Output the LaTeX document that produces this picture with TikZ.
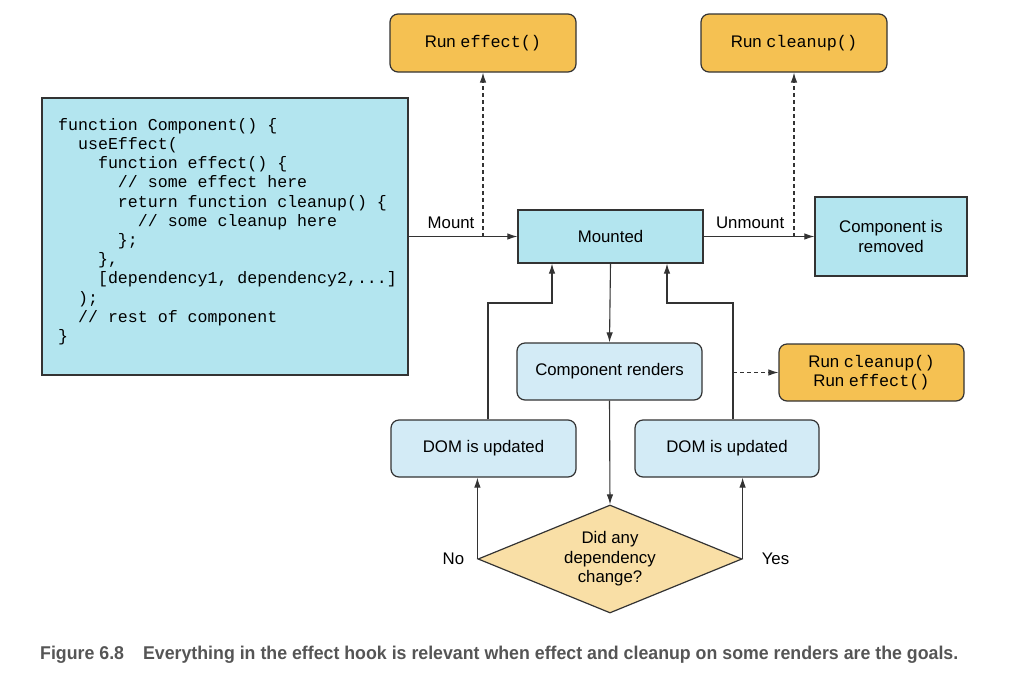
\documentclass[tikz,border=0pt]{standalone}
\usepackage{fontspec}
\setmainfont{Liberation Sans}
\setmonofont{Liberation Mono}
\newfontfamily\capfont[FakeStretch=0.96]{Liberation Sans}
\usetikzlibrary{arrows.meta,shapes.geometric,calc}
\definecolor{cyanbox}{HTML}{B3E5EF}
\definecolor{lightbox}{HTML}{D3EBF6}
\definecolor{orangebox}{HTML}{F5C152}
\definecolor{diafill}{HTML}{F9DFA6}
\definecolor{edge}{HTML}{333333}
\definecolor{capgray}{HTML}{555555}
\newcommand{\cind}[1]{\hspace*{#1em}}
\tikzset{
  lbl/.style={font=\fontsize{16.8}{19.5}\selectfont, text=black, inner sep=0pt},
  sqbox/.style={rectangle, draw=edge, fill=cyanbox, line width=1.2pt, lbl, align=center},
  rndbox/.style={rectangle, rounded corners=8pt, draw=edge, fill=lightbox, line width=1.2pt, lbl, align=center},
  orgbox/.style={rndbox, fill=orangebox},
  arr/.style={draw=edge, line width=1.1pt, -{Latex[length=10pt,width=6.5pt]}},
  darr/.style={arr, dash pattern=on 4pt off 3pt},
}
\begin{document}
\begin{tikzpicture}[x=1pt,y=-1pt]
\useasboundingbox (0,0) rectangle (1009,678);
% code box
\node[sqbox, minimum width=366pt, minimum height=277pt] (code) at (225,236.5) {};
\node[anchor=north west, inner sep=0pt, align=left, font=\ttfamily\fontsize{16.6}{19.2}\selectfont] (codetext) at (58,118) {%
function Component() \{\\
\cind{1.2}useEffect(\\
\cind{2.4}function effect() \{\\
\cind{3.6}// some effect here\\
\cind{3.6}return function cleanup() \{\\
\cind{4.8}// some cleanup here\\
\cind{3.6}\};\\
\cind{2.4}\},\\
\cind{2.4}[dependency1, dependency2,...]\\
\cind{1.2});\\
\cind{1.2}// rest of component\\
\}};
% main nodes
\node[sqbox, minimum width=185pt, minimum height=53pt] (mounted) at (610.5,236.5) {Mounted};
\node[sqbox, minimum width=152pt, minimum height=79pt] (removed) at (891,236.5) {Component is\\removed};
\node[orgbox, minimum width=186pt, minimum height=58pt] (effect) at (483,43) {Run \texttt{effect()}};
\node[orgbox, minimum width=186pt, minimum height=58pt] (cleanup) at (794,43) {Run \texttt{cleanup()}};
\node[rndbox, minimum width=185pt, minimum height=57pt] (renders) at (609.5,371.5) {Component renders};
\node[orgbox, minimum width=185pt, minimum height=57pt] (both) at (871.5,372.5) {Run \texttt{cleanup()}\\Run \texttt{effect()}};
\node[rndbox, minimum width=185pt, minimum height=57pt] (domL) at (483.5,448.5) {DOM is updated};
\node[rndbox, minimum width=184pt, minimum height=57pt] (domR) at (727,448.5) {DOM is updated};
\node[diamond, shape aspect=2.44, draw=edge, fill=diafill, line width=1.2pt, lbl, align=center, minimum width=264pt, minimum height=108pt] (dia) at (610,559) {Did any\\dependency\\change?};
% helper coordinates
\coordinate (mE) at (483,236.5);
\coordinate (mC) at (794,236.5);
\coordinate (cL) at (488,303);
\coordinate (aL) at (552,303);
\coordinate (cR) at (733,303);
\coordinate (aR) at (667,303);
\coordinate (dB) at (733,372.5);
% connectors
\draw[arr] (code.east |- mounted.west) -- (mounted.west) node[lbl, pos=0.39, above=7pt] (mountlbl) {Mount};
\draw[arr] (mounted.east) -- (removed.west) node[lbl, pos=0.42, above=7pt] (unmountlbl) {Unmount};
\draw[darr] (mE) -- (effect.south);
\draw[darr] (mC) -- (cleanup.south);
\draw[arr] (mounted.south) -- (renders.north);
\draw[arr] (renders.south) -- (dia.north);
\draw[arr] (domL.north -| cL) -- (cL) -- (aL) -- (aL |- mounted.south);
\draw[arr] (domR.north -| cR) -- (cR) -- (aR) -- (aR |- mounted.south);
\draw[darr] (dB) -- (both.west);
\draw[arr] (dia.west) -- (dia.west |- domL.south);
\draw[arr] (dia.east) -- (dia.east |- domR.south);
\node[lbl, anchor=east] (nolbl) at ($(dia.west)+(-13,0)$) {No};
\node[lbl, anchor=west] (yeslbl) at ($(dia.east)+(19,0)$) {Yes};
% caption
\node[anchor=west, inner sep=0pt, text=capgray, font=\capfont\bfseries\fontsize{18.5}{21}\selectfont] (caption) at (40,655) {Figure 6.8\hspace{19pt}Everything in the effect hook is relevant when effect and cleanup on some renders are the goals.};
\end{tikzpicture}
\end{document}
